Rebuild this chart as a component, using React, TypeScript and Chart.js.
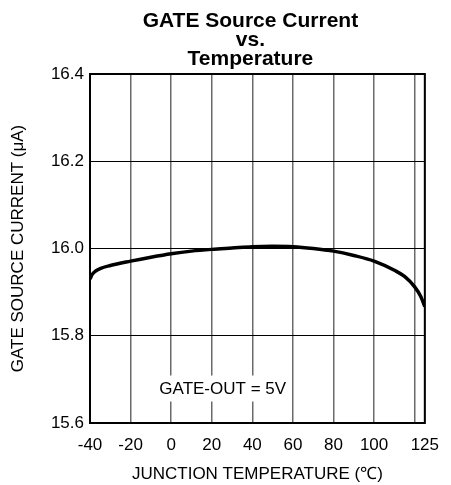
import React, { useEffect, useRef } from "react";
import { Chart, registerables } from "chart.js";

Chart.register(...registerables);

const temperatures = [-40, -39, -37, -35, -30, -20, -10, 0, 10, 20, 30, 40, 50, 60, 70, 80, 90, 100, 110, 115, 120, 123, 125];
const currents = [15.930, 15.940, 15.949, 15.954, 15.961, 15.971, 15.980, 15.988, 15.994, 15.998, 16.001, 16.004, 16.005, 16.004, 16.000, 15.994, 15.984, 15.971, 15.950, 15.936, 15.912, 15.890, 15.867];
const xTicks = [-40, -20, 0, 20, 40, 60, 80, 100, 120, 125];
const xTickLabels = ["-40", "-20", "0", "20", "40", "60", "80", "100", "", "125"];
const yTicks = [15.6, 15.8, 16.0, 16.2, 16.4];
const titleLines = ["GATE Source Current", "vs.", "Temperature"];
const annotation = { text: "GATE-OUT = 5V", x: 25.4, y: 15.679 };
const FONT = "'Liberation Sans', Arial, sans-serif";

export default function App() {
  const ref = useRef<HTMLCanvasElement>(null);
  useEffect(() => {
    const canvas = ref.current;
    if (!canvas) return;
    const overlay = {
      id: "overlay",
      afterDatasetsDraw(chart: any) {
        const ctx = chart.ctx;
        const { left, right, top, bottom } = chart.chartArea;
        const xs = chart.scales.x;
        const ys = chart.scales.y;
        ctx.save();
        // annotation with white box
        ctx.font = `17px ${FONT}`;
        const w = ctx.measureText(annotation.text).width;
        const cx = xs.getPixelForValue(annotation.x);
        const cy = ys.getPixelForValue(annotation.y);
        ctx.fillStyle = "#fff";
        ctx.fillRect(cx - w / 2 - 4, cy - 13, w + 8, 26);
        ctx.fillStyle = "#000";
        ctx.textAlign = "center";
        ctx.textBaseline = "middle";
        ctx.fillText(annotation.text, cx, cy + 1);
        // border
        ctx.strokeStyle = "#000";
        ctx.lineWidth = 2;
        ctx.strokeRect(left, top, right - left, bottom - top);
        // title
        ctx.font = `bold 21px ${FONT}`;
        ctx.textBaseline = "alphabetic";
        const tx = (left + right) / 2 - 7;
        titleLines.forEach((t, i) => ctx.fillText(t, tx, top - 47 + i * 19));
        ctx.restore();
      },
    };
    const chart = new Chart(canvas, {
      type: "line",
      data: {
        datasets: [
          {
            data: temperatures.map((t, i) => ({ x: t, y: currents[i] })),
            borderColor: "#000",
            borderWidth: 3.5,
            pointRadius: 0,
            cubicInterpolationMode: "monotone",
            fill: false,
          },
        ],
      },
      options: {
        animation: false,
        responsive: false,
        maintainAspectRatio: false,
        layout: { padding: { top: 66, right: 16, bottom: 0, left: 0 } },
        plugins: { legend: { display: false }, tooltip: { enabled: false }, title: { display: false } },
        scales: {
          x: {
            type: "linear",
            min: -40,
            max: 125,
            afterBuildTicks: (s: any) => {
              s.ticks = xTicks.map((v) => ({ value: v }));
            },
            afterFit: (s: any) => {
              s.height = 62;
            },
            ticks: {
              autoSkip: false,
              maxRotation: 0,
              padding: 12,
              color: "#000",
              font: { family: FONT, size: 17 },
              callback: (v: any) => xTickLabels[xTicks.indexOf(Number(v))] ?? "",
            },
            grid: { color: "#6a6a6a", lineWidth: 1.5, drawTicks: false },
            border: { display: false },
            title: {
              display: true,
              text: "JUNCTION TEMPERATURE (\u2103)",
              color: "#000",
              font: { family: FONT, size: 17 },
              padding: { top: 0, bottom: 0 },
            },
          },
          y: {
            type: "linear",
            min: 15.6,
            max: 16.4,
            afterBuildTicks: (s: any) => {
              s.ticks = yTicks.map((v) => ({ value: v }));
            },
            afterFit: (s: any) => {
              s.width = 82;
            },
            ticks: {
              padding: 6,
              color: "#000",
              font: { family: FONT, size: 17 },
              callback: (v: any) => Number(v).toFixed(1),
            },
            grid: { color: "#000", lineWidth: 1, drawTicks: false },
            border: { display: false },
            title: {
              display: true,
              text: "GATE SOURCE CURRENT (\u03bcA)",
              color: "#000",
              font: { family: FONT, size: 17 },
              padding: { top: 0, bottom: 0 },
            },
          },
        },
      },
      plugins: [overlay],
    });
    return () => chart.destroy();
  }, []);
  return (
    <div style={{ width: 443, height: 477 }}>
      <canvas ref={ref} width={443} height={477} style={{ width: 443, height: 477, display: "block" }} />
    </div>
  );
}
